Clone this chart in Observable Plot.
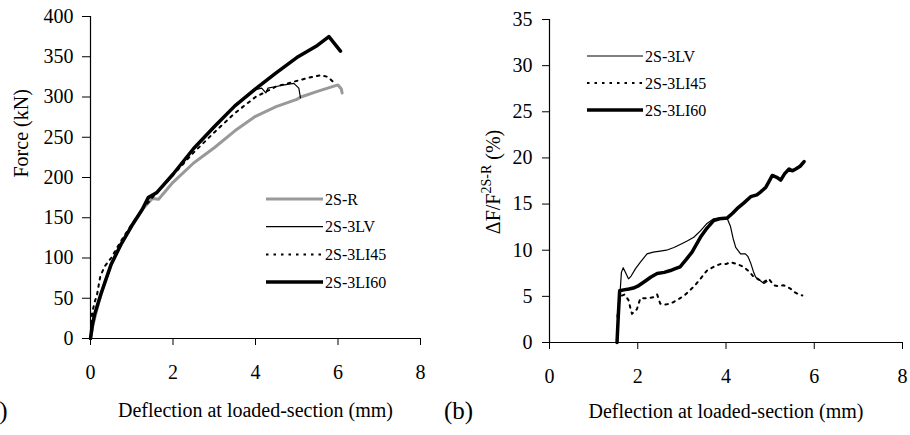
<!DOCTYPE html>
<html>
<head>
<meta charset="utf-8">
<script src="https://cdn.jsdelivr.net/npm/d3@7"></script>
<script src="https://cdn.jsdelivr.net/npm/@observablehq/plot@0.6"></script>
<style>
  body { margin: 0; background: white; }
  #wrap { position: relative; width: 910px; height: 435px; background: white; overflow: hidden; }
  #wrap svg { position: absolute; top: 0; background: transparent; }
</style>
</head>
<body>
<div id="wrap"></div>
<script>
// ---------- Panel (a): Force vs deflection ----------
const seriesA = ["2S-R", "2S-3LV", "2S-3LI45", "2S-3LI60"];

const defR   = [0, 0.05, 0.1, 0.2, 0.3, 0.5, 0.75, 1.0, 1.25, 1.5, 1.65, 1.8, 2.0, 2.5, 3.0, 3.5, 4.0, 4.5, 5.0, 5.1, 5.5, 6.0, 6.08, 6.1];
const forceR = [0, 15, 25, 45, 62, 92, 118, 140, 160, 174, 173, 182, 194, 218, 237, 258, 276, 288, 297, 300, 307, 315, 310, 305];

const defLV   = [0, 0.05, 0.1, 0.25, 0.5, 0.75, 1.0, 1.25, 1.4, 1.6, 2.0, 2.5, 3.0, 3.5, 4.0, 4.15, 4.25, 4.3, 4.5, 4.7, 4.93, 5.05, 5.09];
const forceLV = [0, 18, 30, 55, 92, 118, 140, 160, 175, 181, 204, 236, 263, 289, 309, 311, 305, 311, 313, 315, 317, 311, 299];

const defLI45   = [0, 0.02, 0.04, 0.1, 0.16, 0.24, 0.35, 0.5, 0.75, 1.0, 1.25, 1.5, 2.0, 2.5, 3.0, 3.5, 4.0, 4.5, 5.0, 5.3, 5.58, 5.75, 5.9];
const forceLI45 = [0, 20, 32, 45, 55, 78, 90, 100, 122, 142, 160, 175, 203, 231, 256, 280, 300, 313, 320, 324, 327, 325, 318];

const defLI60   = [0, 0.05, 0.1, 0.25, 0.5, 0.75, 1.0, 1.25, 1.4, 1.6, 2.0, 2.5, 3.0, 3.5, 4.0, 4.5, 5.0, 5.5, 5.78, 6.06];
const forceLI60 = [0, 18, 30, 55, 92, 118, 140, 160, 175, 181, 204, 236, 263, 289, 310, 330, 349, 364, 375, 357];

// ---------- Panel (b): ΔF/F vs deflection ----------
const seriesB = ["2S-3LV", "2S-3LI45", "2S-3LI60"];

const defLVb = [1.53, 1.56, 1.6, 1.63, 1.67, 1.72, 1.79, 1.85, 1.95, 2.06, 2.21, 2.35, 2.51, 2.65, 2.82, 2.95, 3.12, 3.27, 3.42, 3.57, 3.72, 3.85, 4.03, 4.1, 4.16, 4.22, 4.33, 4.44, 4.5, 4.56, 4.62, 4.67, 4.75, 4.86, 4.93];
const pctLVb = [0, 3, 5.5, 7.6, 8.1, 7.6, 6.9, 7.2, 8.0, 8.7, 9.6, 9.8, 9.9, 10.0, 10.3, 10.6, 11.0, 11.4, 12.1, 12.9, 13.4, 13.5, 13.4, 12.6, 11.3, 10.3, 9.6, 9.6, 9.3, 8.6, 7.7, 7.1, 6.8, 6.4, 6.6];

const defLI45b = [1.54, 1.57, 1.6, 1.7, 1.79, 1.84, 1.87, 1.93, 1.98, 2.06, 2.2, 2.36, 2.44, 2.51, 2.6, 2.74, 2.85, 2.96, 3.08, 3.19, 3.3, 3.42, 3.57, 3.72, 3.87, 4.0, 4.1, 4.25, 4.4, 4.52, 4.63, 4.75, 4.86, 4.97, 5.08, 5.2, 5.31, 5.46, 5.54, 5.65, 5.73];
const pctLI45b = [2.8, 4.0, 5.0, 5.2, 4.6, 3.6, 3.1, 3.4, 3.6, 4.8, 4.8, 4.9, 5.2, 4.2, 4.1, 4.2, 4.5, 4.8, 5.2, 5.7, 6.2, 6.9, 7.8, 8.2, 8.5, 8.5, 8.7, 8.5, 8.2, 7.7, 7.1, 6.8, 6.56, 6.9, 6.2, 6.1, 6.2, 5.84, 5.5, 5.2, 5.1];

const defLI60b = [1.53, 1.56, 1.59, 1.68, 1.8, 1.9, 2.0, 2.14, 2.3, 2.44, 2.6, 2.74, 2.85, 2.96, 3.1, 3.23, 3.42, 3.57, 3.72, 3.85, 4.03, 4.15, 4.25, 4.4, 4.56, 4.7, 4.78, 4.9, 4.97, 5.05, 5.15, 5.24, 5.33, 5.43, 5.5, 5.58, 5.68, 5.77];
const pctLI60b = [0, 3, 5.6, 5.7, 5.8, 5.9, 6.1, 6.56, 7.1, 7.47, 7.6, 7.8, 8.0, 8.2, 9.0, 9.8, 11.4, 12.4, 13.2, 13.4, 13.5, 14.0, 14.5, 15.1, 15.8, 16.0, 16.3, 16.8, 17.4, 18.1, 17.9, 17.6, 18.3, 18.8, 18.6, 18.8, 19.1, 19.6];

// tick values / text
const xTicks = [0, 2, 4, 6, 8];
const yTicksA = [0, 50, 100, 150, 200, 250, 300, 350, 400];
const yTicksB = [0, 5, 10, 15, 20, 25, 30, 35];
const xLabel = "Deflection at loaded-section (mm)";
const yLabelA = "Force (kN)";

// ---------- styles ----------
const styles = {
  "2S-R":     {stroke: "#999999", strokeWidth: 3,   dash: null},
  "2S-3LV":   {stroke: "#000000", strokeWidth: 1.2, dash: null},
  "2S-3LI45": {stroke: "#000000", strokeWidth: 2,   dash: "2.5,5"},
  "2S-3LI60": {stroke: "#000000", strokeWidth: 3.5, dash: null}
};
const FONT = "'Liberation Serif', 'Times New Roman', serif";

function toRows(xs, ys) { return xs.map((x, i) => ({x, y: ys[i]})); }

const dataA = {
  "2S-R": toRows(defR, forceR),
  "2S-3LV": toRows(defLV, forceLV),
  "2S-3LI45": toRows(defLI45, forceLI45),
  "2S-3LI60": toRows(defLI60, forceLI60)
};
const dataB = {
  "2S-3LV": toRows(defLVb, pctLVb),
  "2S-3LI45": toRows(defLI45b, pctLI45b),
  "2S-3LI60": toRows(defLI60b, pctLI60b)
};

function lineMarks(data, order) {
  return order.map(k => Plot.line(data[k], {
    x: "x", y: "y",
    stroke: styles[k].stroke,
    strokeWidth: styles[k].strokeWidth,
    strokeDasharray: styles[k].dash,
    strokeLinejoin: "round"
  }));
}

const wrap = document.getElementById("wrap");

// ---------- Plot (a) ----------
const plotA = Plot.plot({
  width: 455, height: 435,
  marginLeft: 90, marginRight: 35, marginTop: 16, marginBottom: 97,
  style: {fontFamily: FONT, fontSize: "20px", color: "black", background: "transparent"},
  x: {domain: [0, 8], ticks: xTicks, tickSize: 7, tickPadding: 19, label: null},
  y: {domain: [0, 400], ticks: yTicksA, tickSize: 8, tickPadding: 9, label: null},
  marks: [
    ...lineMarks(dataA, ["2S-R", "2S-3LI45", "2S-3LI60", "2S-3LV"]),
    Plot.ruleX([0], {stroke: "black", strokeWidth: 1.2}),
    Plot.ruleY([0], {stroke: "black", strokeWidth: 1.2}),
    Plot.text([xLabel], {text: d => d, frameAnchor: "bottom", dy: 78, fontSize: 20}),
    Plot.text([yLabelA], {text: d => d, frameAnchor: "left", dx: -69, rotate: -90, fontSize: 20}),
    Plot.text(["(a)"], {text: d => d, frameAnchor: "bottom-left", textAnchor: "end", dx: -83, dy: 80, fontSize: 25})
  ]
});
plotA.style.left = "0px";
wrap.appendChild(plotA);

// ---------- Plot (b) ----------
const plotB = Plot.plot({
  width: 470, height: 435,
  marginLeft: 109, marginRight: 8, marginTop: 19, marginBottom: 93,
  style: {fontFamily: FONT, fontSize: "20px", color: "black", background: "transparent"},
  x: {domain: [0, 8], ticks: xTicks, tickSize: 7, tickPadding: 19, label: null},
  y: {domain: [0, 35], ticks: yTicksB, tickSize: 7, tickPadding: 10, label: null},
  marks: [
    ...lineMarks(dataB, ["2S-3LI45", "2S-3LI60", "2S-3LV"]),
    Plot.ruleX([0], {stroke: "black", strokeWidth: 1.2}),
    Plot.ruleY([0], {stroke: "black", strokeWidth: 1.2}),
    Plot.text([xLabel], {text: d => d, frameAnchor: "bottom", dy: 75, fontSize: 20}),
    Plot.text(["(b)"], {text: d => d, frameAnchor: "bottom-left", textAnchor: "middle", dx: -91, dy: 76, fontSize: 25})
  ]
});
plotB.style.left = "440px";
wrap.appendChild(plotB);

// right y-axis label with superscript
{
  const svg = d3.select(plotB);
  const t = svg.append("text")
    .attr("transform", "translate(60,182) rotate(-90)")
    .attr("text-anchor", "middle")
    .attr("font-family", FONT)
    .attr("font-size", 20)
    .attr("fill", "black");
  t.append("tspan").text("ΔF/F");
  t.append("tspan").attr("font-size", 14).attr("dy", -9).text("2S-R");
  t.append("tspan").attr("dy", 9).text("\u00a0(%)");
}

// ---------- legends ----------
function legend(svgEl, keys, x0, x1, y0, step) {
  const svg = d3.select(svgEl);
  const g = svg.append("g").attr("text-anchor", "start");
  keys.forEach((k, i) => {
    const y = y0 + i * step;
    g.append("line")
      .attr("x1", x0).attr("x2", x1).attr("y1", y).attr("y2", y)
      .attr("stroke", styles[k].stroke)
      .attr("stroke-width", styles[k].strokeWidth)
      .attr("stroke-dasharray", styles[k].dash);
    g.append("text")
      .attr("x", x1 + 2).attr("y", y).attr("dy", "0.35em")
      .attr("text-anchor", "start")
      .attr("font-family", FONT).attr("font-size", 16)
      .attr("fill", "black")
      .text(k);
  });
}
legend(plotA, seriesA, 266, 323, 199, 27.7);
legend(plotB, seriesB, 147, 203, 56, 27);
</script>
</body>
</html>
